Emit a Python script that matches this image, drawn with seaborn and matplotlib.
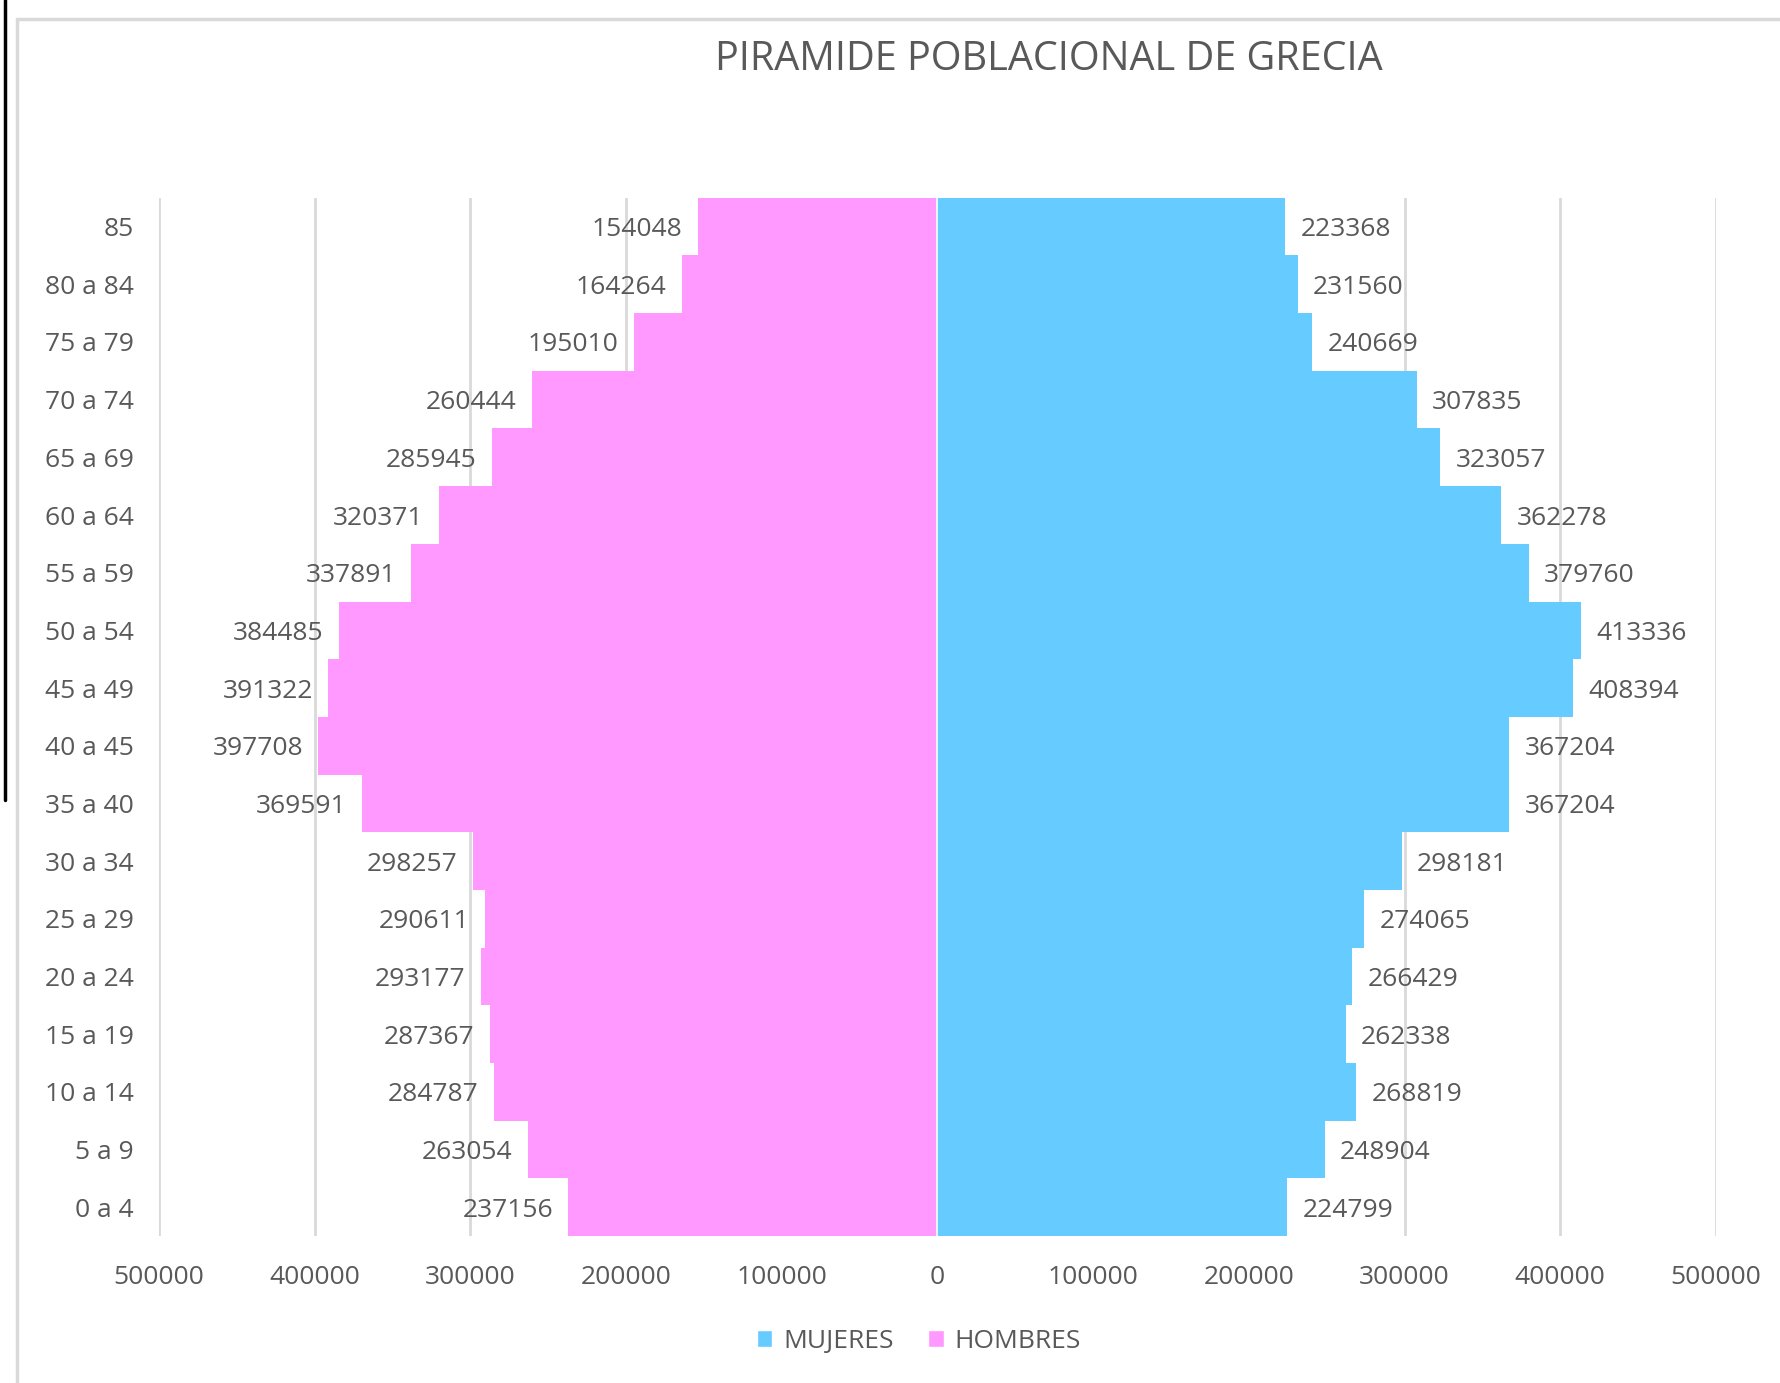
import numpy as np
import pandas as pd
import matplotlib
matplotlib.use('Agg')
import matplotlib.pyplot as plt
from matplotlib.patches import Patch, Rectangle
from matplotlib.lines import Line2D
from matplotlib.ticker import FuncFormatter
import seaborn as sns

edades = ['85', '80 a 84', '75 a 79', '70 a 74', '65 a 69', '60 a 64', '55 a 59',
          '50 a 54', '45 a 49', '40 a 45', '35 a 40', '30 a 34', '25 a 29',
          '20 a 24', '15 a 19', '10 a 14', '5 a 9', '0 a 4']
hombres = [154048, 164264, 195010, 260444, 285945, 320371, 337891, 384485, 391322,
           397708, 369591, 298257, 290611, 293177, 287367, 284787, 263054, 237156]
mujeres = [223368, 231560, 240669, 307835, 323057, 362278, 379760, 413336, 408394,
           367204, 367204, 298181, 274065, 266429, 262338, 268819, 248904, 224799]
ticks = [-500000, -400000, -300000, -200000, -100000, 0, 100000, 200000, 300000, 400000, 500000]

df = pd.DataFrame({'Edad': edades, 'Hombres': hombres, 'Mujeres': mujeres})
df['HombresNeg'] = -df['Hombres']

sns.set_style('white')
plt.rcParams['font.family'] = ['Open Sans', 'DejaVu Sans']
txt = '#595959'
rosa = '#FF99FF'
azul = '#66CCFF'
fs = 19

fig = plt.figure(figsize=(17.8, 13.83), dpi=100)
ax = fig.add_axes([0.0893, 0.1063, 0.8747, 0.7507])

sns.barplot(data=df, x='HombresNeg', y='Edad', orient='h', color=rosa, width=1,
            saturation=1, ax=ax, order=edades, linewidth=0)
sns.barplot(data=df, x='Mujeres', y='Edad', orient='h', color=azul, width=1,
            saturation=1, ax=ax, order=edades, linewidth=0)

anns = ax.bar_label(ax.containers[0], labels=[str(v) for v in hombres], padding=11,
                    fontsize=fs, color=txt)
anns += ax.bar_label(ax.containers[1], labels=[str(v) for v in mujeres], padding=11,
                     fontsize=fs, color=txt)
for a in anns:
    a.set_va('center_baseline')

ax.axvline(0, color='#E8F4FA', lw=1.5, zorder=5)
ax.set_xlim(-500000, 500000)
ax.set_ylim(len(edades) - 0.5, -0.5)
ax.set_xticks(ticks)
ax.xaxis.set_major_formatter(FuncFormatter(lambda v, p: f'{abs(int(v))}'))
ax.set_axisbelow(True)
ax.grid(axis='x', color='#D9D9D9', lw=2)
ax.grid(axis='y', visible=False)
for s in ax.spines.values():
    s.set_visible(False)
ax.tick_params(axis='both', length=0, labelsize=fs, labelcolor=txt)
ax.tick_params(axis='x', pad=21)
ax.tick_params(axis='y', pad=18)
ax.set_xlabel('')
ax.set_ylabel('')

fig.text(0.589, 0.957, 'PIRAMIDE POBLACIONAL DE GRECIA', ha='center', va='center',
         fontsize=28.5, color=txt, family=['Liberation Sans Narrow', 'Open Sans', 'DejaVu Sans'])

handles = [Patch(facecolor=azul, label='MUJERES'), Patch(facecolor=rosa, label='HOMBRES')]
fig.legend(handles=handles, loc='center', bbox_to_anchor=(0.516, 0.030), ncol=2,
           frameon=False, fontsize=fs, labelcolor=txt, handlelength=0.6, handleheight=0.6,
           handletextpad=0.4, columnspacing=1.3)

# marco del grafico y borde de la hoja
fig.add_artist(Rectangle((17 / 1780, -0.1), 1.2, 1.1 - 19 / 1383, transform=fig.transFigure,
                         fill=False, edgecolor='#D9D9D9', lw=2.5))
fig.add_artist(Line2D([5 / 1780, 5 / 1780], [1, 1 - 800 / 1383], transform=fig.transFigure,
                      color='black', lw=2.5))

fig.savefig('out.png', dpi=100)
